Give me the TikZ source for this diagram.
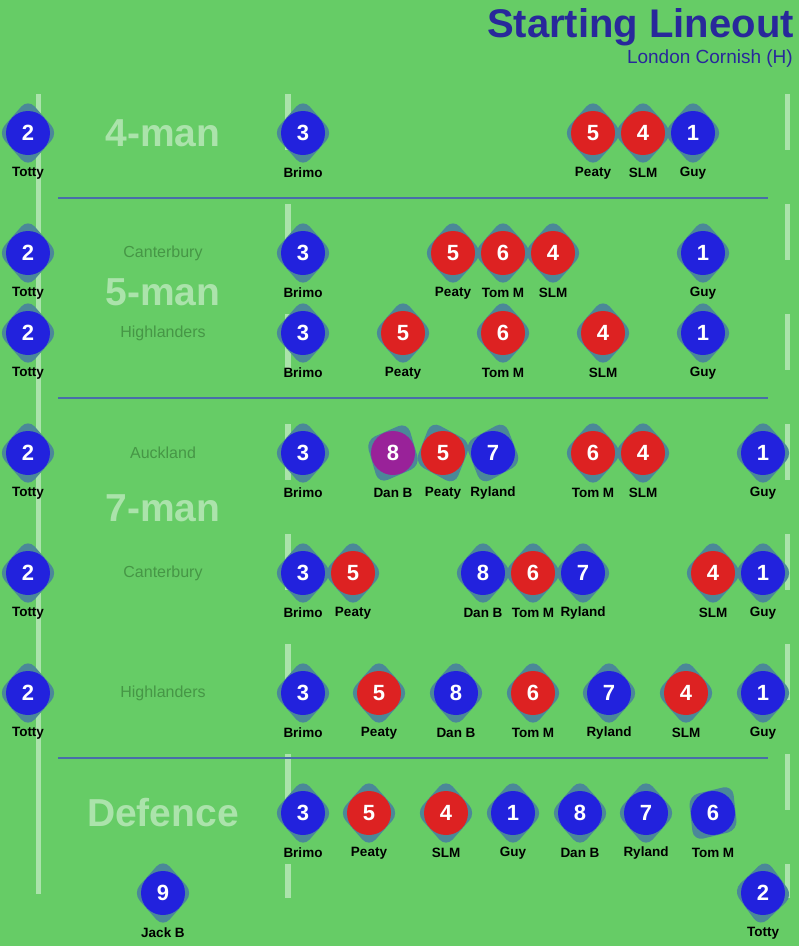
\documentclass[tikz,border=0pt]{standalone}
\usepackage{fontspec}
\setmainfont{Liberation Sans}
\definecolor{pitch}{RGB}{102,204,102}
\definecolor{shadowc}{RGB}{75,136,152}
\definecolor{pblue}{RGB}{34,34,221}
\definecolor{pred}{RGB}{221,34,34}
\definecolor{ppurple}{RGB}{153,34,153}
\definecolor{titleblue}{RGB}{40,40,155}
\definecolor{divider}{RGB}{72,110,170}
\definecolor{teamtxt}{RGB}{70,150,70}
\definecolor{faint}{RGB}{171,227,171}
\tikzset{
  fieldline/.style={draw=white, draw opacity=0.45, line width=5.5pt, line cap=butt},
  divline/.style={draw=divider, line width=1.6pt},
  disc/.style={circle, minimum size=44pt, inner sep=0pt, text=white, font=\bfseries\fontsize{22}{22}\selectfont},
  pname/.style={inner sep=0pt, text=black, font=\bfseries\fontsize{13.5}{14}\selectfont},
  biglabel/.style={text=faint, font=\bfseries\fontsize{39}{40}\selectfont},
  teamlabel/.style={text=teamtxt, font=\fontsize{16}{17}\selectfont}
}
\newcommand\player[7]{%
  \begin{scope}[shift={(#2,#3)}, rotate=#7]
    \fill[shadowc, rounded corners=10pt] (0,-34) -- (30,0) -- (0,34) -- (-30,0) -- cycle;
  \end{scope}
  \node[disc, fill=#5] (#1) at (#2,#3) {#4};
  \node[pname] (#1n) at (#2,#3+40) {#6};
}
\begin{document}
\begin{tikzpicture}[x=1pt,y=-1pt]
\fill[pitch] (0,0) rectangle (799,946);
\useasboundingbox (0,0) rectangle (799,946);

% field lines
\coordinate (lt) at (38.5,94); \coordinate (lb) at (38.5,894);
\coordinate (mt) at (288,94); \coordinate (mb) at (288,898);
\coordinate (rt) at (787.5,94); \coordinate (rb) at (787.5,898);
\draw[fieldline] (lt) -- (lb);
\draw[fieldline, dash pattern=on 56pt off 54pt] (mt) -- (mb);
\draw[fieldline, dash pattern=on 56pt off 54pt] (rt) -- (rb);

% dividers
\coordinate (d1a) at (58,198); \coordinate (d1b) at (768,198);
\coordinate (d2a) at (58,398); \coordinate (d2b) at (768,398);
\coordinate (d3a) at (58,758); \coordinate (d3b) at (768,758);
\draw[divline] (d1a) -- (d1b);
\draw[divline] (d2a) -- (d2b);
\draw[divline] (d3a) -- (d3b);

% title
\node[anchor=base east, inner sep=0pt, text=titleblue, font=\bfseries\fontsize{40}{40}\selectfont] (title) at (794,37) {Starting Lineout};
\node[anchor=base east, inner sep=0pt, text=titleblue, font=\fontsize{19}{19}\selectfont] (subtitle) at (793,63) {London Cornish (H)};

% section labels
\node[biglabel] (l4) at (163,133) {4-man};
\node[biglabel] (l5) at (163,292) {5-man};
\node[biglabel] (l7) at (163,508) {7-man};
\node[biglabel] (ld) at (163,813) {Defence};
\node[teamlabel] (t2) at (163,253) {Canterbury};
\node[teamlabel] (t3) at (163,333) {Highlanders};
\node[teamlabel] (t4) at (163,453) {Auckland};
\node[teamlabel] (t5) at (163,573) {Canterbury};
\node[teamlabel] (t6) at (163,693) {Highlanders};

% row 1: 4-man
\player{a1}{28}{133}{2}{pblue}{Totty}{0}
\player{a2}{303}{133}{3}{pblue}{Brimo}{0}
\player{a3}{593}{133}{5}{pred}{Peaty}{0}
\player{a4}{643}{133}{4}{pred}{SLM}{0}
\player{a5}{693}{133}{1}{pblue}{Guy}{0}

% row 2: 5-man Canterbury
\player{b1}{28}{253}{2}{pblue}{Totty}{0}
\player{b2}{303}{253}{3}{pblue}{Brimo}{0}
\player{b3}{453}{253}{5}{pred}{Peaty}{0}
\player{b4}{503}{253}{6}{pred}{Tom M}{0}
\player{b5}{553}{253}{4}{pred}{SLM}{0}
\player{b6}{703}{253}{1}{pblue}{Guy}{0}

% row 3: 5-man Highlanders
\player{c1}{28}{333}{2}{pblue}{Totty}{0}
\player{c2}{303}{333}{3}{pblue}{Brimo}{0}
\player{c3}{403}{333}{5}{pred}{Peaty}{0}
\player{c4}{503}{333}{6}{pred}{Tom M}{0}
\player{c5}{603}{333}{4}{pred}{SLM}{0}
\player{c6}{703}{333}{1}{pblue}{Guy}{0}

% row 4: 7-man Auckland
\player{e1}{28}{453}{2}{pblue}{Totty}{0}
\player{e2}{303}{453}{3}{pblue}{Brimo}{0}
\player{e3}{393}{453}{8}{ppurple}{Dan B}{-25}
\player{e4}{443}{453}{5}{pred}{Peaty}{20}
\player{e5}{493}{453}{7}{pblue}{Ryland}{-20}
\player{e6}{593}{453}{6}{pred}{Tom M}{0}
\player{e7}{643}{453}{4}{pred}{SLM}{0}
\player{e8}{763}{453}{1}{pblue}{Guy}{0}

% row 5: 7-man Canterbury
\player{f1}{28}{573}{2}{pblue}{Totty}{0}
\player{f2}{303}{573}{3}{pblue}{Brimo}{0}
\player{f3}{353}{573}{5}{pred}{Peaty}{0}
\player{f4}{483}{573}{8}{pblue}{Dan B}{0}
\player{f5}{533}{573}{6}{pred}{Tom M}{0}
\player{f6}{583}{573}{7}{pblue}{Ryland}{0}
\player{f7}{713}{573}{4}{pred}{SLM}{0}
\player{f8}{763}{573}{1}{pblue}{Guy}{0}

% row 6: 7-man Highlanders
\player{g1}{28}{693}{2}{pblue}{Totty}{0}
\player{g2}{303}{693}{3}{pblue}{Brimo}{0}
\player{g3}{379}{693}{5}{pred}{Peaty}{0}
\player{g4}{456}{693}{8}{pblue}{Dan B}{0}
\player{g5}{533}{693}{6}{pred}{Tom M}{0}
\player{g6}{609}{693}{7}{pblue}{Ryland}{0}
\player{g7}{686}{693}{4}{pred}{SLM}{0}
\player{g8}{763}{693}{1}{pblue}{Guy}{0}

% row 7: defence
\player{h1}{303}{813}{3}{pblue}{Brimo}{0}
\player{h2}{369}{813}{5}{pred}{Peaty}{0}
\player{h3}{446}{813}{4}{pred}{SLM}{0}
\player{h4}{513}{813}{1}{pblue}{Guy}{0}
\player{h5}{580}{813}{8}{pblue}{Dan B}{0}
\player{h6}{646}{813}{7}{pblue}{Ryland}{0}
\player{h7}{713}{813}{6}{pblue}{Tom M}{-35}

% row 8
\player{k1}{163}{893}{9}{pblue}{Jack B}{0}
\player{k2}{763}{893}{2}{pblue}{Totty}{-5}
\end{tikzpicture}
\end{document}
